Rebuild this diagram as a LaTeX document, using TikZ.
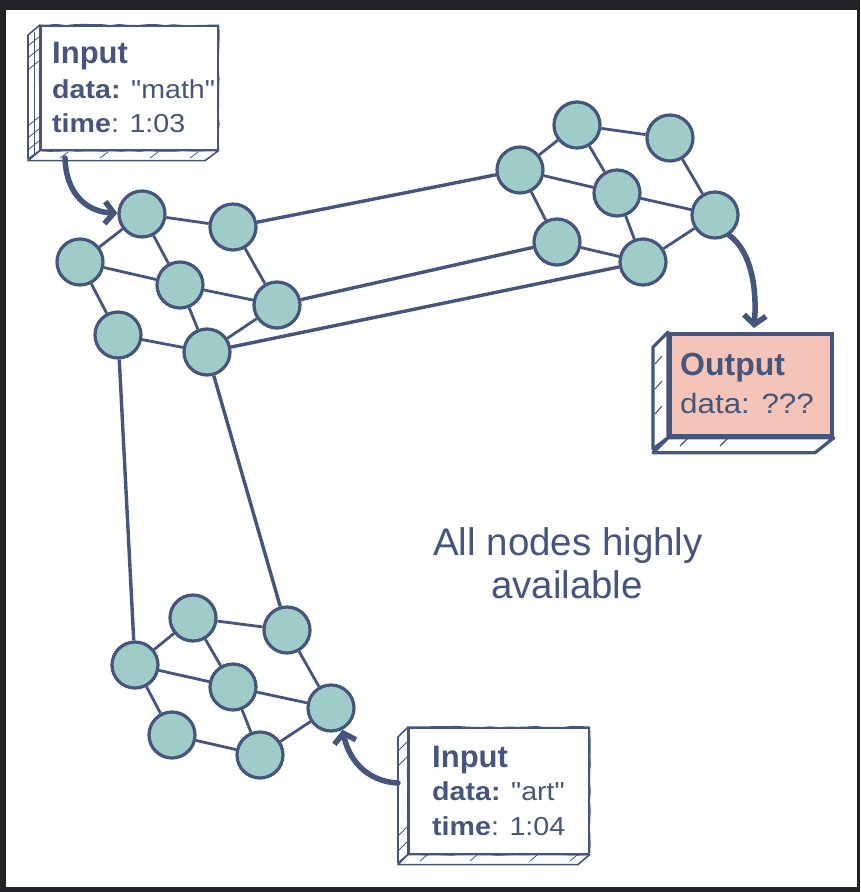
\documentclass[tikz,border=0pt]{standalone}
\usepackage{fontspec}
\usepackage{graphicx}
\setmainfont{Liberation Sans}[Ligatures=TeXOff]
\usetikzlibrary{arrows.meta,decorations.pathmorphing}
\definecolor{ink}{HTML}{45557B}
\definecolor{tealfill}{HTML}{9FCBC9}
\definecolor{framecol}{HTML}{222326}
\definecolor{salmon}{HTML}{F3C4B7}
\tikzset{
  nd/.style={circle, draw=ink, fill=tealfill, line width=3.2pt, minimum size=46pt, inner sep=0pt},
  ln/.style={draw=ink, line width=2.8pt},
  link/.style={draw=ink, line width=3.4pt},
  flow/.style={draw=ink, line width=5.5pt, line cap=round, -{Straight Barb[length=9pt,width=22pt]}},
  txt/.style={text=ink, inner sep=0pt, anchor=base west},
  sk/.style={draw=ink, line width=1.6pt, line join=round},
  skr/.style={draw=ink, line width=1pt, decorate, decoration={random steps, segment length=9pt, amplitude=0.7pt}},
  hatch/.style={draw=ink, line width=0.8pt},
  boxfront/.style={sk, fill=white, minimum width=#1, anchor=north west, inner sep=0pt},
}
\newcommand{\bodyfont}{\fontsize{26}{26}\selectfont}
\newcommand{\titlefont}{\fontsize{31}{31}\selectfont\bfseries}
\newcommand{\dq}{\symbol{34}}
\begin{document}
\begin{tikzpicture}[x=1pt,y=-1pt]
\useasboundingbox (0,0) rectangle (860,892);
\fill[framecol] (0,0) rectangle (860,892);
\fill[white] (6,10) rectangle (857,887);

% ---------- cluster A ----------
\node[nd] (a1) at (142,214) {};
\node[nd] (a2) at (233,227) {};
\node[nd] (a3) at (80,262) {};
\node[nd] (a4) at (180,285) {};
\node[nd] (a5) at (277,305) {};
\node[nd] (a6) at (118,335) {};
\node[nd] (a7) at (207,352) {};
% ---------- cluster B ----------
\node[nd] (b1) at (577,125) {};
\node[nd] (b2) at (670,138) {};
\node[nd] (b3) at (520,170) {};
\node[nd] (b4) at (617,193) {};
\node[nd] (b5) at (715,215) {};
\node[nd] (b6) at (557,242) {};
\node[nd] (b7) at (643,262) {};
% ---------- cluster C ----------
\node[nd] (c1) at (193,618) {};
\node[nd] (c2) at (287,630) {};
\node[nd] (c3) at (135,665) {};
\node[nd] (c4) at (233,687) {};
\node[nd] (c5) at (331,708) {};
\node[nd] (c6) at (172,735) {};
\node[nd] (c7) at (260,755) {};

\foreach \p in {a,b,c}{
  \draw[ln] (\p1) -- (\p2);
  \draw[ln] (\p1) -- (\p3);
  \draw[ln] (\p1) -- (\p4);
  \draw[ln] (\p2) -- (\p5);
  \draw[ln] (\p3) -- (\p4);
  \draw[ln] (\p3) -- (\p6);
  \draw[ln] (\p4) -- (\p5);
  \draw[ln] (\p4) -- (\p7);
  \draw[ln] (\p6) -- (\p7);
  \draw[ln] (\p7) -- (\p5);
}
% inter-cluster links
\draw[link] (a2) -- (b3);
\draw[link] (a5) -- (b6);
\draw[link] (a7) -- (b7);
\draw[link] (a6) -- (c3);
\draw[link] (a7) -- (c2);

% ---------- Input box 1 ----------
\node[boxfront=177pt, minimum height=124pt] (in1) at (40,25) {};
\filldraw[sk, fill=white] (in1.north west) -- ++(-12,10) -- ++(0,124) -- (in1.south west) -- cycle;
\filldraw[sk, fill=white] (in1.south west) -- ++(-12,10) -- ++(177,0) -- (in1.south east) -- cycle;
\draw[skr] (in1.north west) rectangle (in1.south east);
\draw[hatch] (34,32) -- (34,156);
\foreach \yy in {40,52,64,120,132,144}{\draw[hatch] (29,\yy+5) -- (39,\yy-3);}
\foreach \xx in {60,100,150,190}{\draw[hatch] (\xx,158) -- (\xx+8,152);}
\node[txt] (in1t) at (52,63) {\titlefont Input};
\node[txt] (in1d) at (52,98) {\scalebox{1.1}[1]{\bodyfont\textbf{data:} \dq math\dq}};
\node[txt] (in1m) at (52,132) {\scalebox{1.1}[1]{\bodyfont\textbf{time}: 1:03}};

% ---------- Output box ----------
\node[draw=ink, line width=3.8pt, fill=salmon, minimum width=162pt, minimum height=102pt, anchor=north west, inner sep=0pt] (out) at (668,332) {};
\filldraw[draw=ink, line width=3.2pt, fill=white, line join=round] (out.north west) -- ++(-15,15) -- ++(0,102) -- (out.south west) -- cycle;
\filldraw[draw=ink, line width=3.2pt, fill=white, line join=round] (out.south west) -- ++(-15,15) -- ++(162,0) -- (out.south east) -- cycle;
\foreach \yy in {360,385,410}{\draw[hatch, line width=1.1pt] (655,\yy+4) -- (662,\yy-4);}
\foreach \xx in {680,720}{\draw[hatch, line width=1.1pt] (\xx,446) -- (\xx+8,438);}
\node[txt] (outt) at (680,375) {\fontsize{32}{32}\selectfont\bfseries Output};
\node[txt] (outd) at (680,413) {\scalebox{1.12}[1]{\fontsize{28}{28}\selectfont data: ???}};

% ---------- Input box 2 ----------
\node[boxfront=180pt, minimum height=126pt] (in2) at (408,727) {};
\filldraw[sk, fill=white] (in2.north west) -- ++(-10,10) -- ++(0,126) -- (in2.south west) -- cycle;
\filldraw[sk, fill=white] (in2.south west) -- ++(-10,10) -- ++(180,0) -- (in2.south east) -- cycle;
\draw[skr] (in2.north west) rectangle (in2.south east);
\foreach \yy in {745,760,830,845}{\draw[hatch] (399,\yy+5) -- (407,\yy-3);}
\foreach \xx in {420,470,530,570}{\draw[hatch] (\xx,861) -- (\xx+7,855);}
\node[txt] (in2t) at (432,767) {\titlefont Input};
\node[txt] (in2d) at (432,800) {\scalebox{1.1}[1]{\bodyfont\textbf{data:} \dq art\dq}};
\node[txt] (in2m) at (432,835) {\scalebox{1.1}[1]{\bodyfont\textbf{time}: 1:04}};

% ---------- label ----------
\node[text=ink, inner sep=0pt, anchor=base, font=\fontsize{38.5}{38.5}\selectfont] (lab1) at (568,555) {All nodes highly};
\node[text=ink, inner sep=0pt, anchor=base, font=\fontsize{38.5}{38.5}\selectfont] (lab2) at (567,598) {available};

% ---------- arrows ----------
\coordinate (s1) at (65,158);
\coordinate (e2) at (754,328);
\coordinate (s3) at (398,783);
\draw[flow] (s1) .. controls (66,195) and (88,212) .. (a1.178);
\draw[flow] (b5.-55) .. controls (752,252) and (757,290) .. (e2);
\draw[flow] (s3) .. controls (372,782) and (350,765) .. (c5.-62);
\end{tikzpicture}
\end{document}
